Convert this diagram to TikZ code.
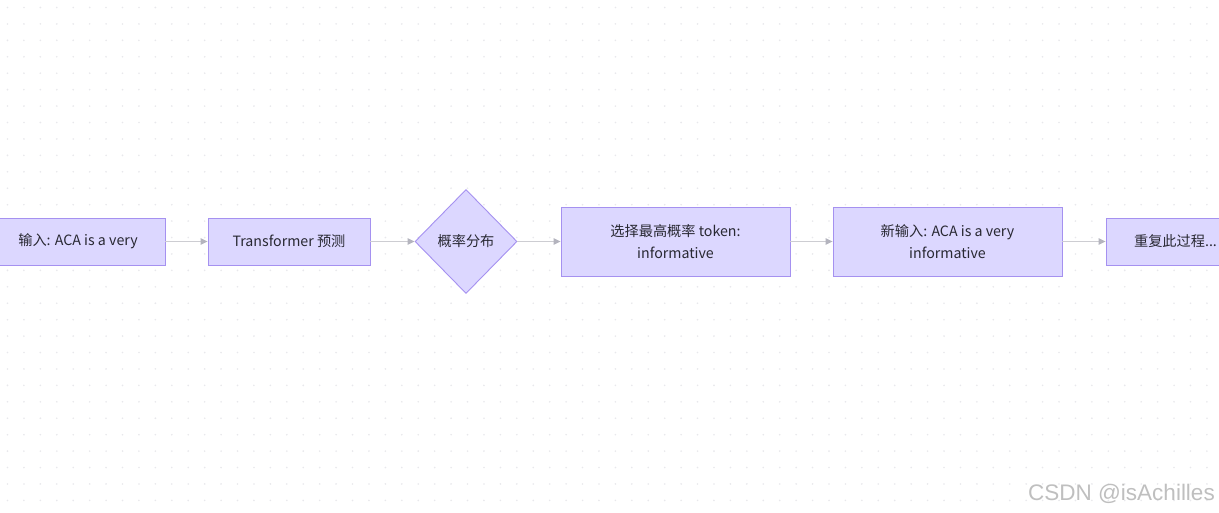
\documentclass[tikz,border=0pt]{standalone}
\usepackage{fontspec}
\setmainfont{Noto Sans CJK SC}
\newfontfamily\wmfont{Liberation Sans}
\usetikzlibrary{shapes.geometric,arrows.meta}
\definecolor{boxfill}{RGB}{220,215,255}
\definecolor{boxline}{RGB}{165,145,240}
\definecolor{linkc}{RGB}{205,205,210}
\definecolor{tipc}{RGB}{180,180,190}
\definecolor{txt}{RGB}{40,40,50}
\definecolor{dotc}{RGB}{232,232,236}
\tikzset{
  flowbox/.style={draw=boxline, fill=boxfill, line width=0.9pt, rectangle, inner sep=0pt, align=center, text=txt, font=\fontsize{14.2}{22}\selectfont},
  flowdiam/.style={draw=boxline, fill=boxfill, line width=0.9pt, diamond, shape aspect=1, inner sep=0pt, minimum width=102pt, minimum height=104pt, text=txt, font=\fontsize{14.2}{22}\selectfont},
  link/.style={draw=linkc, line width=1pt, -{Triangle[width=6.5pt,length=7pt,color=tipc]}}
}
\begin{document}
\begin{tikzpicture}[x=1pt,y=-1pt]
\useasboundingbox (0,0) rectangle (1219,513);
\fill[white] (0,0) rectangle (1219,513);
\begin{scope}
\clip (0,0) rectangle (1219,513);
\foreach \i in {0,...,74} {
  \foreach \j in {0,...,31} {
    \fill[dotc] (7.5+16.43*\i, 7.5+16.43*\j) circle (0.9pt);
  }
}
\node[flowbox, minimum width=174pt, minimum height=47pt] (a) at (78,241.5) {输入: ACA is a very};
\node[flowbox, minimum width=162pt, minimum height=47pt] (b) at (289,241.5) {Transformer 预测};
\node[flowdiam] (c) at (466,241.5) {概率分布};
\node[flowbox, minimum width=229pt, minimum height=69pt] (d) at (675.5,241.5) {选择最高概率 token:\\informative};
\node[flowbox, minimum width=229pt, minimum height=69pt] (e) at (947.5,241.5) {新输入: ACA is a very\\informative};
\node[flowbox, minimum width=139pt, minimum height=47pt] (f) at (1175.5,241.5) {重复此过程...};
\draw[link] (a) -- (b);
\draw[link] (b) -- (c);
\draw[link] (c) -- (d);
\draw[link] (d) -- (e);
\draw[link] (e) -- (f);
\node[anchor=east, text=black!25, font=\wmfont\fontsize{22.5}{26}\selectfont, inner sep=0pt] (wm) at (1215,494) {CSDN @isAchilles};
\end{scope}
\end{tikzpicture}
\end{document}
